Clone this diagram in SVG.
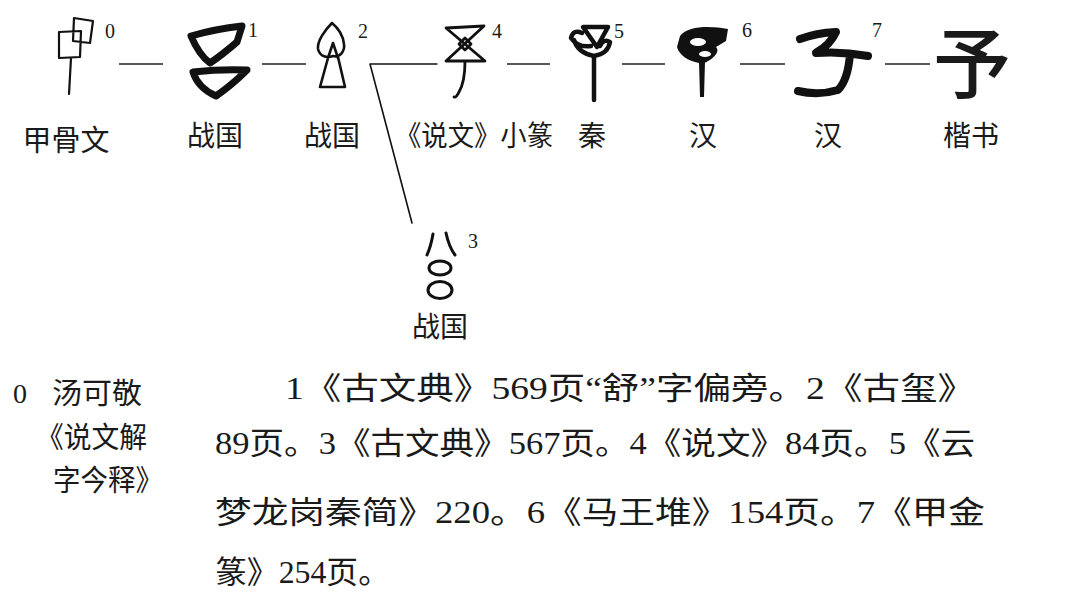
<svg xmlns="http://www.w3.org/2000/svg" width="1080" height="594" viewBox="0 0 1080 594">
<style>
.t{font-family:"Liberation Serif","Noto Sans CJK SC",serif;fill:#1a1a1a}
.lab{font-size:28px;text-anchor:middle}
.sup{font-family:"Liberation Serif",serif;font-size:20px;fill:#1a1a1a}
.par{font-size:31px}
.thin{fill:none;stroke:#111;stroke-width:2.2;stroke-linejoin:round;stroke-linecap:round}
.thick{fill:none;stroke:#111;stroke-linejoin:round;stroke-linecap:round}
.dash{stroke:#222;stroke-width:1.6}
</style>
<rect width="1080" height="594" fill="#fff"/>
<g id="connectors">
<line class="dash" x1="119" y1="64" x2="163" y2="64"/>
<line class="dash" x1="262" y1="64" x2="306" y2="64"/>
<polyline class="thin" style="stroke-width:1.6" points="437,64 370,64 412,223"/>
<line class="dash" x1="507" y1="64" x2="550" y2="64"/>
<line class="dash" x1="622" y1="64" x2="665" y2="64"/>
<line class="dash" x1="740" y1="64" x2="785" y2="64"/>
<line class="dash" x1="885" y1="64" x2="930" y2="64"/>
</g>
<g id="n0">
<path class="thin" d="M59,32 L59,58 L80,57 L81,31 Z M74,18 L93,21 L90,43 L73,41 Z M71,58 L69,94"/>
<text class="sup" x="105" y="38">0</text>
<text class="t lab" x="66" y="151" style="font-size:29px">甲骨文</text>
</g>
<g id="n1">
<path class="thick" style="stroke-width:7" d="M191,36 Q215,29 242,26 L237,42 Q222,55 210,63 Q199,55 191,36 Z M193,72 Q220,69 247,70 Q232,85 216,96 Q198,88 193,72 Z"/>
<text class="sup" x="248" y="37">1</text>
<text class="t lab" x="215" y="146">战国</text>
</g>
<g id="n2">
<path class="thin" style="stroke-width:2.6" d="M332,23 C325,30 317,41 318,49 C320,57 327,58 333,56 C340,58 345,51 344,44 C343,35 338,28 332,23 Z M328,58 L333,43 L338,58 M328,58 L320,87 L345,87 L338,57"/>
<text class="sup" x="358" y="38">2</text>
<text class="t lab" x="332" y="146">战国</text>
</g>
<g id="n3">
<path class="thin" style="stroke-width:3" d="M433,234 Q431,246 427,255 M446,233 Q449,247 455,255"/>
<ellipse class="thin" style="stroke-width:3" cx="440" cy="268" rx="11" ry="7"/>
<ellipse class="thin" style="stroke-width:3" cx="440" cy="290" rx="12" ry="8.5"/>
<text class="sup" x="468" y="248">3</text>
<text class="t lab" x="440" y="337">战国</text>
</g>
<g id="n4">
<path class="thin" style="stroke-width:2.8" d="M446,28 L484,26 L446,61 L485,61 Z M459,44 L465,38 L471,44 L465,50 Z M465,61 Q465,82 459,92 Q456,98 454,97"/>
<text class="sup" x="492" y="38">4</text>
<text class="t lab" x="474" y="146" style="font-size:28px" textLength="158" lengthAdjust="spacingAndGlyphs">《说文》小篆</text>
</g>
<g id="n5">
<path class="thick" style="stroke-width:4.5" d="M583,27 L608,27 L597,47 Z M591,46 Q578,48 571,38 Q573,29 582,33 M574,40 Q578,53 594,56 Q608,54 610,42 Q604,38 600,46 M594,56 L594,100"/>
<text class="sup" x="614" y="38">5</text>
<text class="t lab" x="592" y="146">秦</text>
</g>
<g id="n6">
<path fill="#111" d="M680,36 C688,25 712,26 728,29 L726,41 L716,47 C721,52 712,60 704,63 L699,63 C688,61 679,55 677,47 Z"/>
<ellipse fill="#fff" cx="698" cy="42" rx="8" ry="4"/>
<ellipse fill="#fff" cx="705" cy="54" rx="6" ry="3"/>
<path fill="#111" d="M699,61 L705,61 L704,97 L700,97 Z"/>
<text class="sup" x="742" y="37">6</text>
<text class="t lab" x="703" y="146">汉</text>
</g>
<g id="n7">
<path class="thick" style="stroke-width:8" d="M800,39 Q816,33 836,32 Q830,45 817,52 M816,53 Q842,51 868,56 M850,54 Q848,80 838,90 Q818,96 798,91"/>
<text class="sup" x="872" y="37">7</text>
<text class="t lab" x="828" y="146">汉</text>
</g>
<g id="n8">
<text class="t" x="972" y="93" style="font-size:78px;text-anchor:middle;font-weight:500">予</text>
<text class="t lab" x="971" y="146">楷书</text>
</g>
<g id="notes">
<text class="t" x="13" y="403" style="font-size:28px">0</text>
<text class="t" x="52" y="404" style="font-size:29px" textLength="90" lengthAdjust="spacingAndGlyphs">汤可敬</text>
<text class="t" x="36" y="448" style="font-size:29px" textLength="111" lengthAdjust="spacingAndGlyphs">《说文解</text>
<text class="t" x="53" y="491" style="font-size:29px" textLength="110" lengthAdjust="spacingAndGlyphs">字今释》</text>
<text class="t par" x="285" y="399" textLength="690" lengthAdjust="spacingAndGlyphs">1《古文典》569页“舒”字偏旁。2《古玺》</text>
<text class="t par" x="215" y="454" textLength="760" lengthAdjust="spacingAndGlyphs">89页。3《古文典》567页。4《说文》84页。5《云</text>
<text class="t par" x="215" y="523" textLength="770" lengthAdjust="spacingAndGlyphs">梦龙岗秦简》220。6《马王堆》154页。7《甲金</text>
<text class="t par" x="215" y="583" textLength="175" lengthAdjust="spacingAndGlyphs">篆》254页。</text>
</g>
</svg>
